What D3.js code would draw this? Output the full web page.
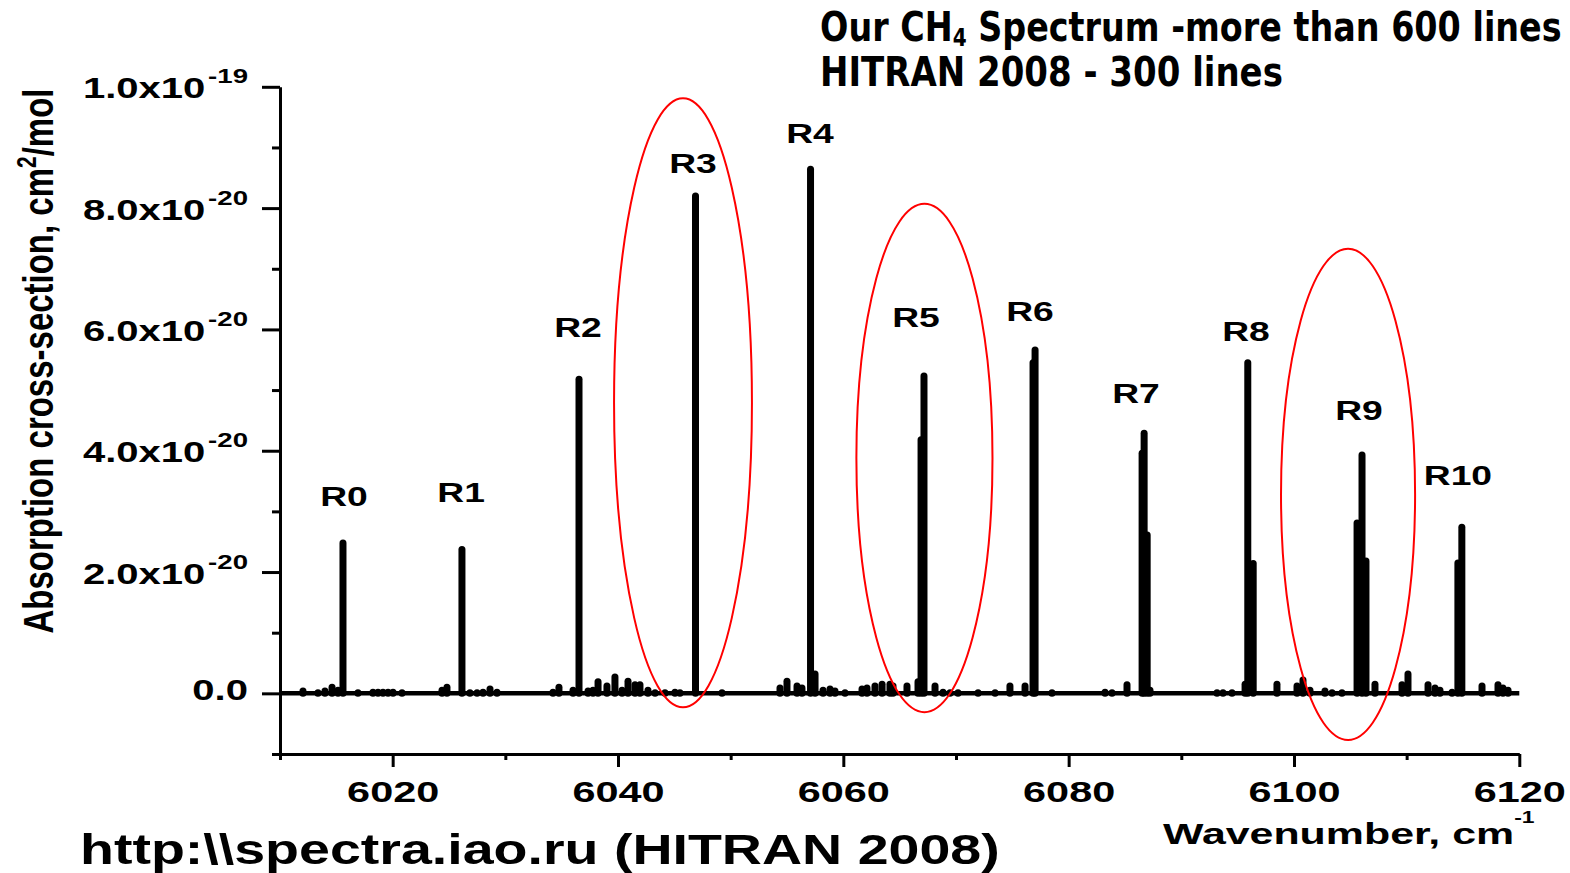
<!DOCTYPE html>
<html><head><meta charset="utf-8">
<script src="https://cdn.jsdelivr.net/npm/d3@7"></script>
<style>html,body{margin:0;padding:0;background:#fff;} svg{display:block;}</style>
</head><body>
<svg id="chart" width="1570" height="873"></svg>
<script>
// Absorption cross-section values in units of 1e-20 cm^2/mol
const strongLineW = [6015.59, 6026.15, 6036.54, 6046.88, 6057.09, 6067.16, 6066.90, 6077.02, 6076.84,
  6086.70, 6086.52, 6086.97, 6095.90, 6096.38, 6106.04, 6105.60, 6106.39, 6114.90, 6114.55];
const strongLineV = [2.48, 2.37, 5.18, 8.20, 8.64, 5.23, 4.18, 5.66, 5.45,
  4.29, 3.96, 2.61, 5.45, 2.14, 3.93, 2.81, 2.18, 2.74, 2.15];
const weakLineW = [6012.04, 6013.37, 6013.99, 6014.62, 6015.15, 6016.92, 6018.25, 6018.70, 6019.14, 6019.59,
  6020.03, 6020.83, 6024.38, 6024.82, 6026.86, 6027.49, 6028.02, 6028.64, 6029.26, 6034.23, 6034.76, 6036.01,
  6037.34, 6037.78, 6038.23, 6039.02, 6039.73, 6040.36, 6040.89, 6041.51, 6041.95, 6042.66, 6043.29, 6044.17,
  6045.06, 6045.50, 6049.23, 6054.38, 6055.00, 6055.89, 6056.33, 6057.49, 6058.20, 6058.82, 6059.26, 6060.15,
  6061.66, 6062.10, 6062.81, 6063.44, 6064.14, 6064.41, 6065.65, 6066.63, 6068.14, 6068.85, 6069.47, 6070.18,
  6071.96, 6073.47, 6074.79, 6076.13, 6078.52, 6083.23, 6083.85, 6085.18, 6087.22, 6093.17, 6093.70, 6094.50,
  6095.66, 6098.49, 6100.27, 6100.80, 6101.42, 6102.75, 6103.38, 6104.26, 6107.19, 6109.59, 6110.12, 6111.90,
  6112.52, 6112.96, 6114.03, 6116.69, 6118.11, 6118.55, 6119.00];
const weakLineV = [0.04, 0.01, 0.04, 0.10, 0.05, 0.01, 0.02, 0.02, 0.02, 0.02,
  0.02, 0.01, 0.05, 0.10, 0.01, 0.01, 0.02, 0.07, 0.02, 0.02, 0.10, 0.05,
  0.04, 0.05, 0.19, 0.12, 0.27, 0.05, 0.20, 0.14, 0.14, 0.05, 0.01, 0.01,
  0.02, 0.01, 0.01, 0.09, 0.20, 0.12, 0.09, 0.32, 0.05, 0.07, 0.04, 0.01,
  0.07, 0.09, 0.12, 0.15, 0.15, 0.12, 0.12, 0.19, 0.12, 0.02, 0.01, 0.01,
  0.01, 0.01, 0.12, 0.12, 0.01, 0.02, 0.01, 0.14, 0.05, 0.01, 0.01, 0.01,
  0.15, 0.15, 0.12, 0.22, 0.05, 0.04, 0.01, 0.01, 0.15, 0.14, 0.32, 0.14,
  0.09, 0.05, 0.02, 0.12, 0.14, 0.09, 0.05];
const labelNames = ["R0","R1","R2","R3","R4","R5","R6","R7","R8","R9","R10"];
const labelW = [6015.68, 6026.07, 6036.45, 6046.66, 6057.04, 6066.45, 6076.57, 6085.98, 6095.74, 6105.77, 6114.55];
const labelV = [3.09, 3.15, 5.87, 8.58, 9.07, 6.04, 6.14, 4.79, 5.81, 4.51, 3.43];
const xMajorTicks = [6020, 6040, 6060, 6080, 6100, 6120];
const xMinorTicks = [6010, 6030, 6050, 6070, 6090, 6110];
const yMajorTicks = [0, 2, 4, 6, 8, 10];
const yMinorTicks = [-1, 1, 3, 5, 7, 9];
const yTickMantissa = ["0.0", "2.0x10", "4.0x10", "6.0x10", "8.0x10", "1.0x10"];
const yTickExponent = ["", "-20", "-20", "-20", "-20", "-19"];
const ellipseCenterW = [6045.77, 6067.20, 6104.80];
const ellipseCenterV = [4.79, 3.88, 3.28];
const ellipseHalfW = [6.12, 6.04, 5.95];
const ellipseHalfV = [5.02, 4.19, 4.05];

const svg = d3.select("#chart");
const FONT = "'Liberation Sans', Arial, sans-serif";
const SX = 1.38;
const x = d3.scaleLinear().domain([6010, 6120]).range([280, 1519.3]);
const y = d3.scaleLinear().domain([-1, 10]).range([754, 86.8]);

// axes
const axisStyle = g => { g.selectAll("path,line").attr("stroke", "#000").attr("stroke-width", 3); };
const gx = svg.append("g").attr("transform", `translate(0,${y(-1)})`);
gx.call(d3.axisBottom(x).tickValues(xMinorTicks).tickSize(6).tickSizeOuter(0).tickFormat(""));
gx.call(axisStyle);
const gx2 = svg.append("g").attr("transform", `translate(0,${y(-1)})`);
gx2.call(d3.axisBottom(x).tickValues(xMajorTicks).tickSize(13).tickSizeOuter(0).tickFormat(d3.format("d")));
gx2.call(axisStyle);
gx2.select(".domain").remove();
gx2.selectAll(".tick text")
  .attr("y", 0).attr("dy", 0)
  .attr("transform", `translate(0,48) scale(${SX},1)`)
  .attr("fill", "#000").attr("font-family", FONT).attr("font-weight", "bold").attr("font-size", 30)
  .attr("text-anchor", "middle");

const gy = svg.append("g").attr("transform", `translate(${x(6010)},0)`);
gy.call(d3.axisLeft(y).tickValues(yMinorTicks).tickSize(8).tickSizeOuter(0).tickFormat(""));
gy.call(axisStyle);
const gy2 = svg.append("g").attr("transform", `translate(${x(6010)},0)`);
gy2.call(d3.axisLeft(y).tickValues(yMajorTicks).tickSize(18).tickSizeOuter(0).tickFormat(""));
gy2.call(axisStyle);
gy2.select(".domain").remove();
gy2.selectAll(".tick").each(function(d, i) {
  const t = d3.select(this).select("text");
  t.attr("x", 0).attr("dy", 0).attr("text-anchor", "end")
   .attr("transform", `translate(-32,${yTickExponent[i] ? 11 : 6}) scale(${SX},1)`)
   .attr("fill", "#000").attr("font-family", FONT).attr("font-weight", "bold").attr("font-size", 29);
  t.text(null);
  t.append("tspan").text(yTickMantissa[i]);
  if (yTickExponent[i]) t.append("tspan").attr("font-size", 20).attr("dx", 2).attr("dy", -15).text(yTickExponent[i]);
});

// zero line
svg.append("line").attr("x1", x(6010)).attr("x2", x(6120)).attr("y1", y(0)).attr("y2", y(0))
  .attr("stroke", "#000").attr("stroke-width", 4.5);

// spectrum lines
const lines = weakLineW.map((w, i) => ({w, v: weakLineV[i]}))
  .concat(strongLineW.map((w, i) => ({w, v: strongLineV[i]})));
svg.append("g").selectAll("line").data(lines).join("line")
  .attr("x1", d => x(d.w)).attr("x2", d => x(d.w))
  .attr("y1", y(0)).attr("y2", d => y(d.v))
  .attr("stroke", "#000").attr("stroke-width", 7).attr("stroke-linecap", "round");

// peak labels
svg.append("g").selectAll("text").data(labelNames).join("text")
  .attr("transform", (d, i) => `translate(${x(labelW[i])},${y(labelV[i])}) scale(${SX},1)`)
  .attr("text-anchor", "middle").attr("font-family", FONT).attr("font-weight", "bold").attr("font-size", 27)
  .attr("fill", "#000").text(d => d);

// red ellipses
svg.append("g").selectAll("ellipse").data(ellipseCenterW).join("ellipse")
  .attr("cx", d => x(d)).attr("cy", (d, i) => y(ellipseCenterV[i]))
  .attr("rx", (d, i) => x(d + ellipseHalfW[i]) - x(d))
  .attr("ry", (d, i) => y(0) - y(ellipseHalfV[i]))
  .attr("fill", "none").attr("stroke", "#ff0000").attr("stroke-width", 2);

// axis titles
const xt = svg.append("text").attr("transform", `translate(1163,844) scale(1.43,1)`)
  .attr("font-family", FONT).attr("font-weight", "bold").attr("font-size", 30).attr("fill", "#000");
xt.append("tspan").text("Wavenumber, cm");
xt.append("tspan").attr("font-size", 16).attr("dy", -21).text("-1");

const yt = svg.append("text").attr("transform", `translate(53,361) scale(1.31,1) rotate(-90)`)
  .attr("text-anchor", "middle").attr("font-family", FONT).attr("font-weight", "bold").attr("font-size", 33).attr("fill", "#000");
yt.append("tspan").text("Absorption cross-section, cm");
yt.append("tspan").attr("font-size", 21).attr("dy", -13).text("2");
yt.append("tspan").attr("dy", 13).text("/mol");

// fit helper for overlay texts
function fitText(t, tx, ty, targetW) {
  const w = t.node().getBBox().width;
  t.attr("transform", `translate(${tx},${ty}) scale(${targetW / w},1)`);
}
const TFONT = "'DejaVu Sans', Verdana, sans-serif";
const t1 = svg.append("text").attr("font-family", TFONT).attr("font-weight", "bold").attr("font-size", 40).attr("fill", "#000");
t1.append("tspan").text("Our CH");
t1.append("tspan").attr("font-size", 24).attr("dy", 5).text("4");
t1.append("tspan").attr("dy", -5).text(" Spectrum -more than 600 lines");
fitText(t1, 820, 41, 742);
const t2 = svg.append("text").attr("font-family", TFONT).attr("font-weight", "bold").attr("font-size", 40).attr("fill", "#000")
  .text("HITRAN 2008 - 300 lines");
fitText(t2, 820, 86, 463);
const t3 = svg.append("text").attr("font-family", FONT).attr("font-weight", "bold").attr("font-size", 42).attr("fill", "#000")
  .text("http:\\\\spectra.iao.ru (HITRAN 2008)");
fitText(t3, 80, 864, 920);
</script>
</body></html>
